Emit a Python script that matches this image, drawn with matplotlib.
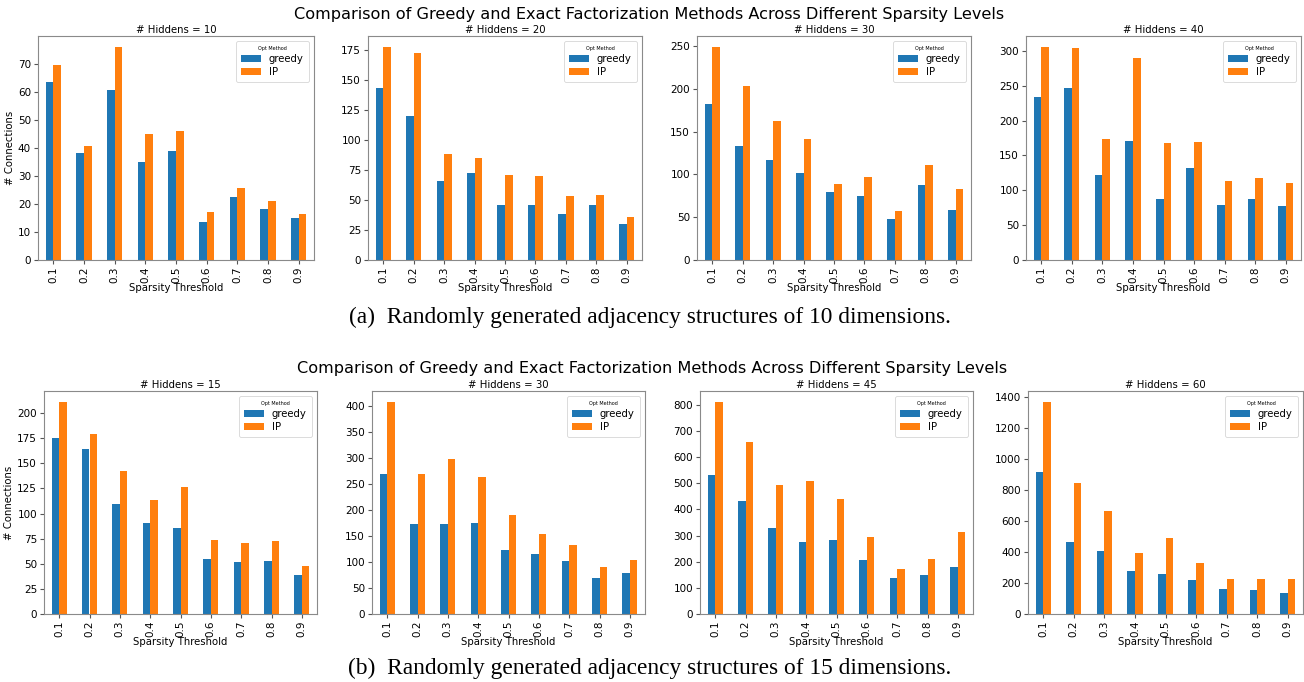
import matplotlib
matplotlib.use("Agg")
import matplotlib.pyplot as plt
import numpy as np

thresholds = ["0.1", "0.2", "0.3", "0.4", "0.5", "0.6", "0.7", "0.8", "0.9"]

# row (a): 10 dimensions
hiddens_a = [10, 20, 30, 40]
greedy_a = [
    [63.5, 38, 60.5, 35, 39, 13.5, 22.5, 18, 15],
    [143, 120, 66, 72.5, 45.5, 45.5, 38, 45.5, 30],
    [183, 133, 116.5, 102, 79.5, 74.5, 48.5, 88, 58.5],
    [234, 246, 121.5, 170, 87, 132, 79, 87, 77.5],
]
ip_a = [
    [69.5, 40.5, 76, 45, 46, 17, 25.5, 21, 16.5],
    [177.5, 172.5, 88.5, 85, 70.5, 70, 53, 54, 36],
    [249.5, 204, 162, 141, 88.5, 96.5, 57, 111.5, 82.5],
    [306, 304, 173, 290, 167.5, 169, 113.5, 117, 110],
]

# row (b): 15 dimensions
hiddens_b = [15, 30, 45, 60]
greedy_b = [
    [175.5, 164, 110, 91, 85.5, 55, 52, 53, 39],
    [269, 173, 173, 175.5, 123, 116, 102, 68.5, 78],
    [533, 432, 329, 275, 283, 205, 137, 148, 178],
    [915, 465, 410, 280, 258, 218, 162, 158, 138],
]
ip_b = [
    [211.5, 179, 142, 113.5, 126, 74, 71, 72.5, 48],
    [409, 270, 298, 263, 191, 155, 132, 91, 104.5],
    [812, 658, 493, 510, 440, 293, 172, 210, 315],
    [1372, 847, 665, 395, 492, 330, 226, 226, 224],
]

suptitle = "Comparison of Greedy and Exact Factorization Methods Across Different Sparsity Levels"
caption_a = "(a)  Randomly generated adjacency structures of 10 dimensions."
caption_b = "(b)  Randomly generated adjacency structures of 15 dimensions."

W, H = 1304, 682
fig = plt.figure(figsize=(W / 100, H / 100), dpi=100)


def px_axes(left, right, top, bottom):
    return fig.add_axes([left / W, (H - bottom) / H, (right - left) / W, (bottom - top) / H])


def draw_row(boxes, hiddens, greedy, ip):
    x = np.arange(len(thresholds))
    for i, (l, r, t, b) in enumerate(boxes):
        ax = px_axes(l, r, t, b)
        ax.bar(x - 0.125, greedy[i], 0.25, color="#1f77b4", label="greedy")
        ax.bar(x + 0.125, ip[i], 0.25, color="#ff7f0e", label="IP")
        ax.set_xlim(-0.5, len(thresholds) - 0.5)
        ax.set_xticks(x)
        ax.set_xticklabels(thresholds, rotation=90)
        ax.tick_params(labelsize=7.5, length=3, pad=2, color="#555555")
        ax.set_title("# Hiddens = {}".format(hiddens[i]), fontsize=7.3, pad=2.5)
        ax.set_xlabel("Sparsity Threshold", fontsize=7.3, labelpad=0)
        if i == 0:
            ax.set_ylabel("# Connections", fontsize=7.3, labelpad=2)
        for s in ax.spines.values():
            s.set_color("#8a8a8a")
        leg = ax.legend(title="Opt Method", fontsize=7.3, title_fontsize=3.5,
                        loc="upper right", handlelength=2.0, borderpad=0.5,
                        labelspacing=0.3)
        leg.get_frame().set_linewidth(0.6)


draw_row([(38, 314, 36, 260), (368, 642, 36, 260), (697, 971, 36, 260), (1026, 1301, 36, 260)],
         hiddens_a, greedy_a, ip_a)
draw_row([(44, 317, 391, 614), (372, 645, 391, 614), (700, 973, 391, 614), (1028, 1303, 391, 614)],
         hiddens_b, greedy_b, ip_b)

fig.text(649 / W, 1 - 14 / H, suptitle, ha="center", va="center", fontsize=11.6)
fig.text(652 / W, 1 - 368 / H, suptitle, ha="center", va="center", fontsize=11.6)
fig.text(650 / W, 1 - 317 / H, caption_a, ha="center", va="center", fontsize=16.8, family="Liberation Serif")
fig.text(650 / W, 1 - 668 / H, caption_b, ha="center", va="center", fontsize=16.8, family="Liberation Serif")

fig.savefig("out.png", dpi=100)
